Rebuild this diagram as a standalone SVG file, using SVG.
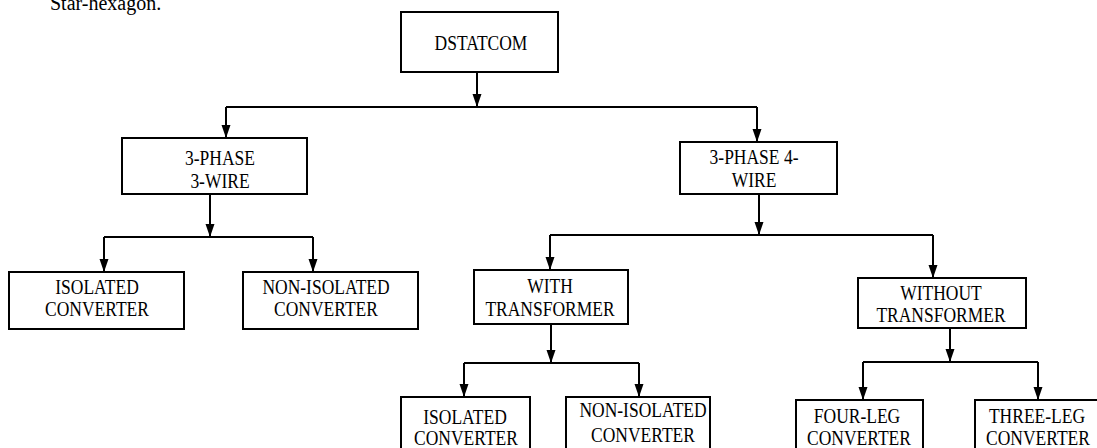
<svg xmlns="http://www.w3.org/2000/svg" width="1097" height="448" viewBox="0 0 1097 448">
  <style>
    .box { fill: #ffffff; stroke: #000000; stroke-width: 2; }
    .lbl { font-family: "Liberation Serif", "Times New Roman", serif; font-size: 17.5px; fill: #000000; text-anchor: middle; }
    .conn { fill: none; stroke: #000000; stroke-width: 2; }
    .arr { fill: none; stroke: #000000; stroke-width: 2; marker-end: url(#ah); }
    .cap { font-family: "Liberation Serif", "Times New Roman", serif; font-size: 20px; fill: #000000; }
  </style>
  <defs>
    <marker id="ah" markerUnits="userSpaceOnUse" markerWidth="13" markerHeight="10" refX="13" refY="5" orient="auto">
      <path d="M0,0.5 L13,5 L0,9.5 z" fill="#000000"/>
    </marker>
  </defs>
  <rect width="1097" height="448" fill="#ffffff"/>
  <text class="cap" x="50" y="10">Star-hexagon.</text>

  <g id="connectors">
    <line class="arr" x1="477" y1="72" x2="477" y2="107"/>
    <polyline class="conn" points="226,107 757,107"/>
    <line class="arr" x1="226" y1="107" x2="226" y2="138"/>
    <line class="arr" x1="757" y1="107" x2="757" y2="142"/>

    <line class="arr" x1="210" y1="194" x2="210" y2="237"/>
    <polyline class="conn" points="104,237 313,237"/>
    <line class="arr" x1="104" y1="237" x2="104" y2="272"/>
    <line class="arr" x1="313" y1="237" x2="313" y2="272"/>

    <line class="arr" x1="759" y1="194" x2="759" y2="235"/>
    <polyline class="conn" points="550,235 933,235"/>
    <line class="arr" x1="550" y1="235" x2="550" y2="270"/>
    <line class="arr" x1="933" y1="235" x2="933" y2="278"/>

    <line class="arr" x1="551" y1="324" x2="551" y2="363"/>
    <polyline class="conn" points="464,363 639,363"/>
    <line class="arr" x1="464" y1="363" x2="464" y2="397"/>
    <line class="arr" x1="639" y1="363" x2="639" y2="397"/>

    <line class="arr" x1="950" y1="328" x2="950" y2="362"/>
    <polyline class="conn" points="863,362 1038,362"/>
    <line class="arr" x1="863" y1="362" x2="863" y2="400"/>
    <line class="arr" x1="1038" y1="362" x2="1038" y2="400"/>
  </g>

  <g id="n_dstatcom">
    <rect class="box" x="401" y="12" width="157" height="60"/>
    <text class="lbl" transform="translate(481,50) scale(1,1.15)">DSTATCOM</text>
  </g>
  <g id="n_3p3w">
    <rect class="box" x="122" y="138" width="185" height="56"/>
    <text class="lbl" transform="translate(220,165) scale(1,1.15)">3-PHASE</text>
    <text class="lbl" transform="translate(220,188) scale(1,1.15)">3-WIRE</text>
  </g>
  <g id="n_3p4w">
    <rect class="box" x="680" y="142" width="157" height="52"/>
    <text class="lbl" transform="translate(754,164) scale(1,1.15)">3-PHASE 4-</text>
    <text class="lbl" transform="translate(754,187) scale(1,1.15)">WIRE</text>
  </g>
  <g id="n_iso1">
    <rect class="box" x="9" y="272" width="175" height="57"/>
    <text class="lbl" transform="translate(97,294) scale(1,1.15)">ISOLATED</text>
    <text class="lbl" transform="translate(97,316) scale(1,1.15)">CONVERTER</text>
  </g>
  <g id="n_noniso1">
    <rect class="box" x="243" y="272" width="175" height="57"/>
    <text class="lbl" transform="translate(326,294) scale(1,1.15)">NON-ISOLATED</text>
    <text class="lbl" transform="translate(326,316) scale(1,1.15)">CONVERTER</text>
  </g>
  <g id="n_with">
    <rect class="box" x="474" y="270" width="154" height="54"/>
    <text class="lbl" transform="translate(550,293) scale(1,1.15)">WITH</text>
    <text class="lbl" transform="translate(550,316) scale(1,1.15)">TRANSFORMER</text>
  </g>
  <g id="n_without">
    <rect class="box" x="858" y="278" width="168" height="50"/>
    <text class="lbl" transform="translate(941,300) scale(1,1.15)">WITHOUT</text>
    <text class="lbl" transform="translate(941,322) scale(1,1.15)">TRANSFORMER</text>
  </g>
  <g id="n_iso2">
    <rect class="box" x="401" y="397" width="129" height="60"/>
    <text class="lbl" transform="translate(465,424) scale(1,1.15)">ISOLATED</text>
    <text class="lbl" transform="translate(466,445) scale(1,1.15)">CONVERTER</text>
  </g>
  <g id="n_noniso2">
    <rect class="box" x="566" y="397" width="144" height="60"/>
    <text class="lbl" transform="translate(643,417) scale(1,1.15)">NON-ISOLATED</text>
    <text class="lbl" transform="translate(643,442) scale(1,1.15)">CONVERTER</text>
  </g>
  <g id="n_fourleg">
    <rect class="box" x="796" y="400" width="127" height="60"/>
    <text class="lbl" transform="translate(857,423) scale(1,1.15)">FOUR-LEG</text>
    <text class="lbl" transform="translate(859,445) scale(1,1.15)">CONVERTER</text>
  </g>
  <g id="n_threeleg">
    <rect class="box" x="975" y="400" width="130" height="60"/>
    <text class="lbl" transform="translate(1037,423) scale(1,1.15)">THREE-LEG</text>
    <text class="lbl" transform="translate(1038,445) scale(1,1.15)">CONVERTER</text>
  </g>
</svg>
